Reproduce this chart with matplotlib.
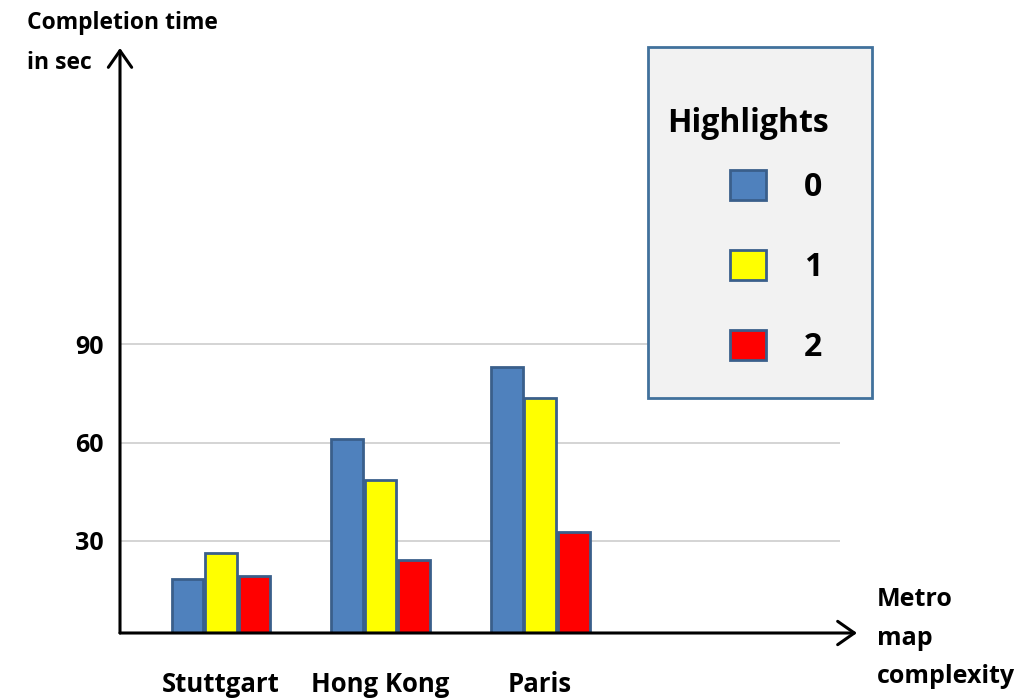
import numpy as np
import matplotlib
matplotlib.use("Agg")
import matplotlib.pyplot as plt
from matplotlib.patches import Rectangle

# completion time (sec) per metro map, one series per number of highlights
cities = ["Stuttgart", "Hong Kong", "Paris"]
highlights = ["0", "1", "2"]
time_0 = [18.2, 61.0, 83.1]
time_1 = [26.4, 48.6, 73.6]
time_2 = [19.1, 24.1, 32.8]
yticks = [30, 60, 90]

fill_colors = ["#4f81bd", "#ffff00", "#ff0000"]
edge_color = "#3a5f8b"

plt.rcParams["font.family"] = ["Open Sans", "DejaVu Sans"]
plt.rcParams["font.weight"] = "bold"

W, H = 1023, 698
fig = plt.figure(figsize=(W / 100, H / 100), dpi=100)
# axes box in pixels: x 120..840, y 48..633
ax = fig.add_axes([120 / W, 65 / H, 720 / W, 585 / H])

x = np.arange(len(cities))
width = 0.2
offset = 0.21
series = [time_0, time_1, time_2]
bars = []
for i, vals in enumerate(series):
    b = ax.bar(x + (i - 1) * offset, vals, width, color=fill_colors[i],
               edgecolor=edge_color, linewidth=2, zorder=3)
    bars.append(b)

ax.set_xlim(-0.633, 3.88)
ax.set_ylim(1.8, 180.6)

for s in ax.spines.values():
    s.set_visible(False)

ax.set_yticks(yticks)
ax.set_yticklabels([str(t) for t in yticks], fontsize=18, fontweight="bold")
ax.set_xticks(x)
ax.set_xticklabels(cities, fontsize=18.5, fontweight="bold")
ax.tick_params(axis="y", length=0, pad=12)
ax.tick_params(axis="x", length=0, pad=27)
ax.yaxis.grid(True, color="#d4d4d4", linewidth=1.4, zorder=0)
ax.set_axisbelow(True)

# axis arrows
arrow = dict(arrowstyle="->,head_length=0.5,head_width=0.35", lw=2.2,
             color="black", mutation_scale=24, shrinkA=0, shrinkB=0)
ax.annotate("", xy=(0, 1), xytext=(0, 0), xycoords="axes fraction",
            arrowprops=arrow, annotation_clip=False, zorder=5)
ax.annotate("", xy=(737 / 720, 0), xytext=(0, 0), xycoords="axes fraction",
            arrowprops=arrow, annotation_clip=False, zorder=5)

fig.text(27 / W, 1 - 11 / H, "Completion time\nin sec", ha="left", va="top",
         fontsize=16.5, fontweight="bold", linespacing=1.87)
fig.text(877 / W, 1 - 587 / H, "Metro\nmap\ncomplexity", ha="left", va="top",
         fontsize=18, fontweight="bold", linespacing=1.72)

# legend panel
fig.add_artist(Rectangle((648 / W, 1 - 398 / H), 224 / W, 351 / H,
                         transform=fig.transFigure, facecolor="#f2f2f2",
                         edgecolor="#41719c", linewidth=2, zorder=4))
fig.text(667 / W, 1 - 124 / H, "Highlights", ha="left", va="center",
         fontsize=23, fontweight="bold", zorder=6)
leg = fig.legend([b[0] for b in bars], highlights, loc="upper left",
                 bbox_to_anchor=(730 / W, 1 - 170 / H), frameon=False,
                 borderpad=0, borderaxespad=0,
                 prop={"size": 23, "weight": "bold"},
                 handlelength=1.12, handleheight=1.05, handletextpad=1.2,
                 labelspacing=1.45)
leg.set_zorder(6)

fig.savefig("out.png", dpi=100)
